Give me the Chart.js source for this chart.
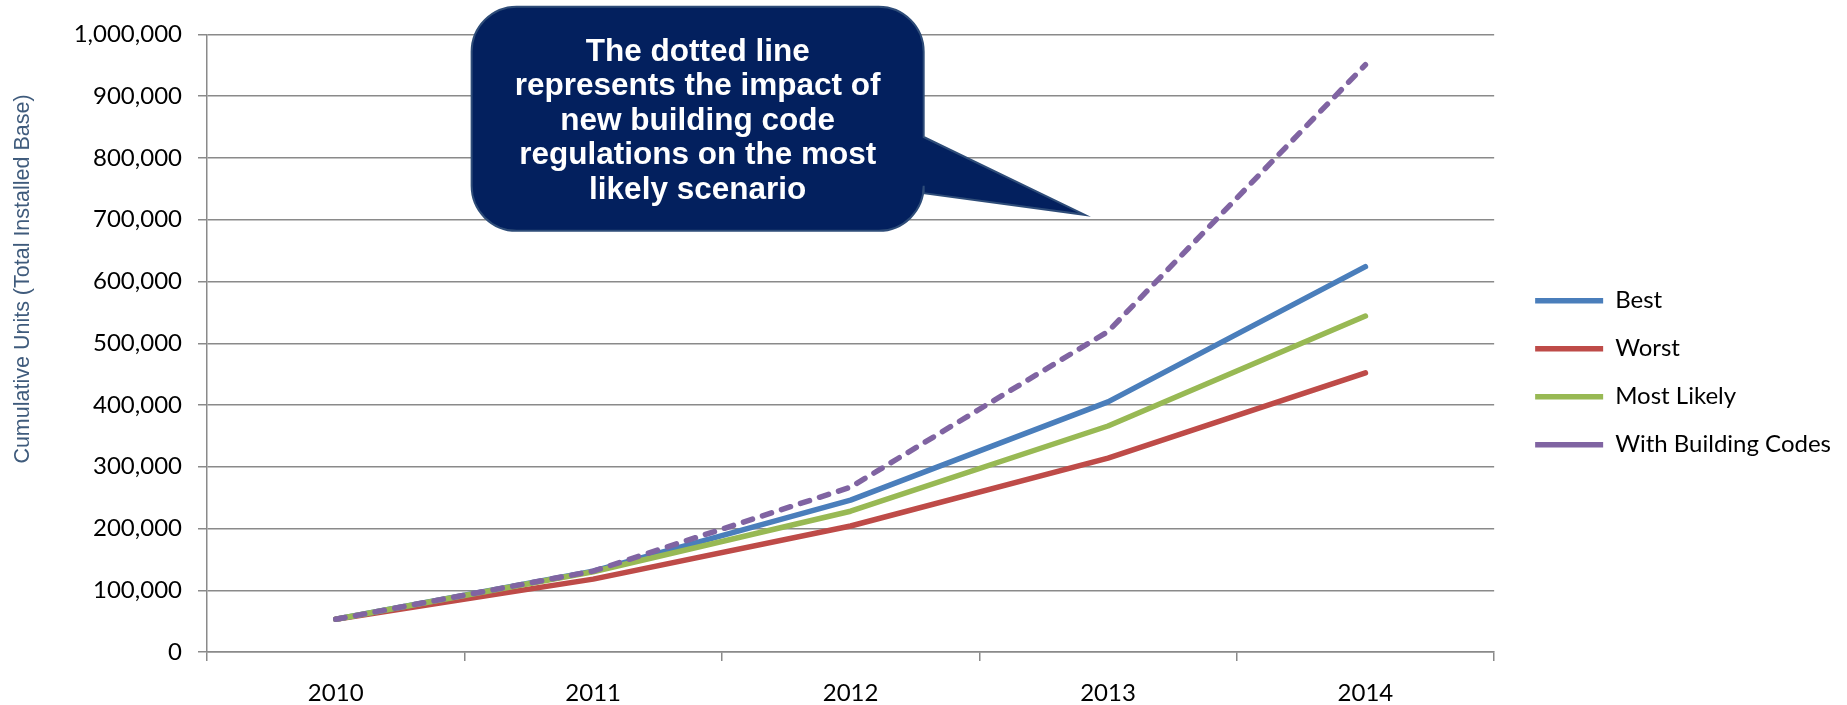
<!DOCTYPE html>
<html>
<head>
<meta charset="utf-8">
<script src="https://cdn.jsdelivr.net/npm/chart.js@4.4.1/dist/chart.umd.min.js"></script>
<style>
  html, body { margin: 0; padding: 0; background: #fff; }
</style>
</head>
<body>
<canvas id="chart" width="1847" height="705"></canvas>
<script>
const years = ["2010", "2011", "2012", "2013", "2014"];
const best = [53000, 131000, 246000, 405000, 624000];
const worst = [53000, 118000, 204000, 314000, 452000];
const mostLikely = [53000, 130000, 228000, 366000, 544000];
const withCodes = [53000, 131000, 267000, 519000, 951000];
const yTitle = "Cumulative Units (Total Installed Base)";
const calloutLines = [
  "The dotted line",
  "represents the impact of",
  "new building code",
  "regulations on the most",
  "likely scenario",
];

const GRID = "#8a8a8a";

// callout box + pointer, in data space (category index, units)
const callout = { x0: 0.528, x1: 2.284, yTop: 1045000, yBot: 682000,
                  attachTop: 834000, attachBot: 743000, tipX: 2.91, tipY: 708000 };

const notes = {
  id: "notes",
  afterLayout(chart) {
    // legend sits a little off the plot edge
    chart.legend.left += 17;
    chart.legend.right += 17;
    chart.legend.top += 3;
    chart.legend.bottom += 3;
  },
  afterDraw(chart) {
    const ctx = chart.ctx;
    const xs = chart.scales.x, ys = chart.scales.y;

    ctx.save();
    ctx.translate(23, 279);
    ctx.rotate(-Math.PI / 2);
    ctx.font = '21.5px "Liberation Sans", Arial, sans-serif';
    ctx.fillStyle = "#3f5b7c";
    ctx.textAlign = "center";
    ctx.textBaseline = "middle";
    ctx.fillText(yTitle, 0, 0);
    ctx.restore();

    const L = xs.getPixelForValue(callout.x0), R = xs.getPixelForValue(callout.x1);
    const T = ys.getPixelForValue(callout.yTop), B = ys.getPixelForValue(callout.yBot);
    const r = 45;
    ctx.save();
    ctx.beginPath();
    ctx.moveTo(L + r, T);
    ctx.lineTo(R - r, T);
    ctx.arcTo(R, T, R, T + r, r);
    ctx.lineTo(R, ys.getPixelForValue(callout.attachTop));
    ctx.lineTo(xs.getPixelForValue(callout.tipX), ys.getPixelForValue(callout.tipY));
    ctx.lineTo(R, ys.getPixelForValue(callout.attachBot));
    ctx.lineTo(R, B - r);
    ctx.arcTo(R, B, R - r, B, r);
    ctx.lineTo(L + r, B);
    ctx.arcTo(L, B, L, B - r, r);
    ctx.lineTo(L, T + r);
    ctx.arcTo(L, T, L + r, T, r);
    ctx.closePath();
    ctx.fillStyle = "#03205e";
    ctx.fill();
    ctx.lineWidth = 2;
    ctx.strokeStyle = "#2e4c78";
    ctx.stroke();

    ctx.fillStyle = "#ffffff";
    ctx.font = 'bold 31.5px "Liberation Sans", Arial, sans-serif';
    ctx.textAlign = "center";
    ctx.textBaseline = "alphabetic";
    const cx = (L + R) / 2;
    calloutLines.forEach((t, i) => ctx.fillText(t, cx, T + 54 + i * 34.5));
    ctx.restore();
  },
};

function line(label, data, color, order, dash) {
  return {
    label, data, order,
    borderColor: color, backgroundColor: color,
    borderWidth: 5.5, borderDash: dash || [],
    borderCapStyle: "round", borderJoinStyle: "round",
    pointRadius: 0, pointHoverRadius: 0, tension: 0, fill: false,
  };
}

Chart.defaults.font.family = "Lato";
Chart.defaults.font.size = 24;
Chart.defaults.color = "#000";

new Chart(document.getElementById("chart"), {
  type: "line",
  data: {
    labels: years,
    datasets: [
      line("Best", best, "#4a7ebb", 2),
      line("Worst", worst, "#be4b48", 3),
      line("Most Likely", mostLikely, "#98b954", 1),
      line("With Building Codes", withCodes, "#8064a2", 0, [9.5, 10.5]),
    ],
  },
  options: {
    responsive: false,
    animation: false,
    layout: { padding: { top: 34.5, right: 23, bottom: 0, left: 0 } },
    plugins: {
      legend: {
        position: "right",
        labels: {
          usePointStyle: true, pointStyle: "line", pointStyleWidth: 68,
          padding: 24, color: "#000", font: { family: "Lato", size: 24 },
          sort: (a, b) => a.datasetIndex - b.datasetIndex,
        },
      },
      tooltip: { enabled: false },
    },
    scales: {
      x: {
        offset: true,
        grid: { offset: true, drawOnChartArea: false, drawTicks: true, tickLength: 9, color: GRID, lineWidth: 1.5 },
        border: { color: GRID, width: 1.5 },
        ticks: { padding: 18, color: "#000", font: { size: 24 } },
        afterFit: (s) => { s.height = 53; },
      },
      y: {
        min: 0, max: 1000000,
        grid: { color: GRID, lineWidth: 1.5, tickLength: 9 },
        border: { color: GRID, width: 1.5 },
        ticks: { stepSize: 100000, padding: 16, color: "#000", font: { size: 24 },
                 callback: (v) => v.toLocaleString("en-US") },
        afterFit: (s) => { s.width = 207; },
      },
    },
  },
  plugins: [notes],
});
</script>
</body>
</html>
